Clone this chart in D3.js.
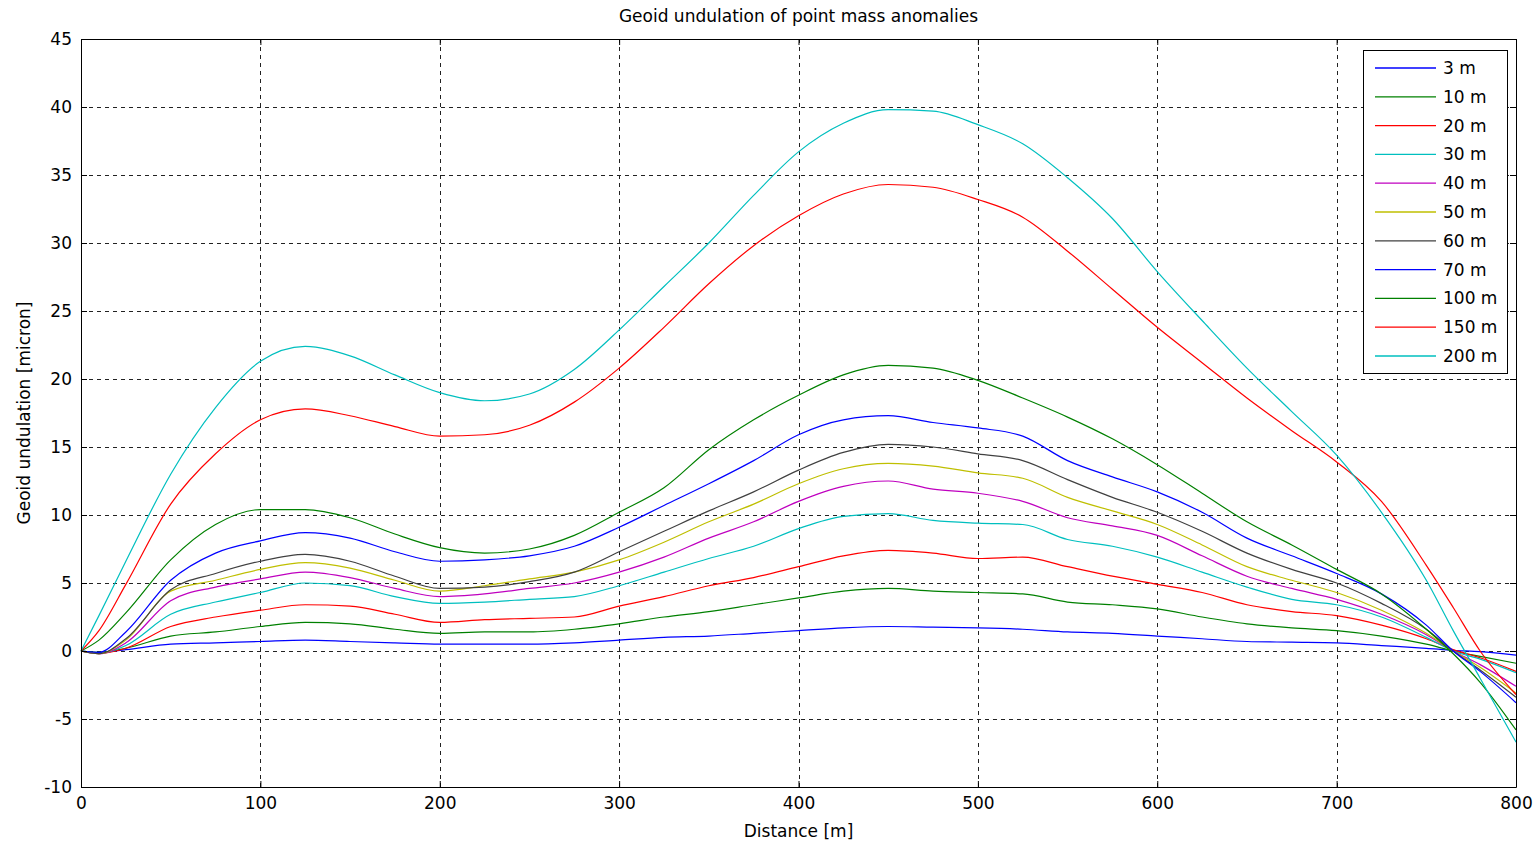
<!DOCTYPE html>
<html>
<head>
<meta charset="utf-8">
<script src="https://cdn.jsdelivr.net/npm/d3@7"></script>
<style>
  body { margin: 0; background: #fff; }
  text { font-family: "DejaVu Sans", sans-serif; fill: #000; }
</style>
</head>
<body>
<div id="chart"></div>
<script>
var width = 1540;
var height = 844;

// distance along profile [m]
var distance = [0, 10, 25, 50, 75, 100, 125, 150, 175, 200, 225, 250, 275, 300, 325, 350, 375, 400,
  425, 450, 475, 500, 525, 550, 575, 600, 625, 650, 675, 700, 725, 750, 765, 780, 800];

// geoid undulation [micron] per anomaly depth
var m3 = [0, -0.1, 0.1, 0.5, 0.6, 0.7, 0.8, 0.7, 0.6, 0.5, 0.5, 0.5, 0.6, 0.8, 1.0, 1.1, 1.3, 1.5,
  1.7, 1.8, 1.75, 1.7, 1.6, 1.4, 1.3, 1.1, 0.9, 0.7, 0.65, 0.6, 0.4, 0.2, 0.05, -0.05, -0.3];
var m10 = [0, -0.1, 0.2, 1.1, 1.4, 1.8, 2.1, 2.0, 1.6, 1.3, 1.4, 1.4, 1.6, 2.0, 2.5, 2.9, 3.4, 3.9,
  4.4, 4.6, 4.4, 4.3, 4.2, 3.6, 3.4, 3.1, 2.5, 2.0, 1.7, 1.5, 1.1, 0.5, 0.0, -0.4, -0.9];
var m20 = [0, -0.2, 0.2, 1.8, 2.5, 3.0, 3.4, 3.3, 2.7, 2.1, 2.3, 2.4, 2.5, 3.3, 4.0, 4.8, 5.4, 6.2,
  7.0, 7.4, 7.2, 6.8, 6.9, 6.2, 5.5, 4.9, 4.3, 3.4, 2.9, 2.6, 1.9, 0.9, 0.1, -0.5, -1.5];
var m30 = [0, -0.2, 0.4, 2.7, 3.6, 4.3, 5.0, 4.8, 4.0, 3.5, 3.6, 3.8, 4.0, 4.8, 5.8, 6.8, 7.7, 9.0,
  9.9, 10.1, 9.6, 9.4, 9.3, 8.2, 7.7, 6.9, 5.8, 4.7, 3.8, 3.4, 2.5, 1.0, 0.0, -0.6, -1.6];
var m40 = [0, -0.2, 0.6, 3.7, 4.7, 5.3, 5.8, 5.4, 4.6, 4.0, 4.2, 4.6, 5.0, 5.8, 6.9, 8.3, 9.5, 11.0,
  12.1, 12.5, 11.9, 11.6, 11.0, 9.8, 9.2, 8.5, 7.0, 5.5, 4.6, 3.8, 2.7, 1.2, 0.0, -1.0, -2.6];
var m50 = [0, -0.2, 0.8, 4.4, 5.2, 6.0, 6.5, 6.1, 5.2, 4.4, 4.8, 5.3, 5.8, 6.7, 8.0, 9.5, 10.8, 12.3,
  13.4, 13.8, 13.6, 13.1, 12.7, 11.3, 10.3, 9.3, 7.8, 6.2, 5.2, 4.3, 3.0, 1.3, 0.0, -1.2, -3.1];
var m60 = [0, -0.2, 0.9, 4.5, 5.7, 6.6, 7.1, 6.6, 5.5, 4.6, 4.7, 5.1, 5.8, 7.3, 8.8, 10.3, 11.7, 13.3,
  14.6, 15.2, 15.0, 14.5, 14.0, 12.6, 11.3, 10.2, 8.8, 7.2, 6.0, 5.0, 3.5, 1.6, 0.0, -1.4, -3.4];
var m70 = [0, -0.1, 1.4, 5.2, 7.2, 8.1, 8.7, 8.3, 7.3, 6.6, 6.7, 7.0, 7.7, 9.1, 10.7, 12.3, 14.0, 15.9,
  17.0, 17.3, 16.8, 16.4, 15.8, 14.0, 12.8, 11.7, 10.2, 8.3, 7.0, 5.7, 4.2, 1.9, 0.0, -1.5, -3.8];
var m100 = [0, 0.8, 2.8, 6.7, 9.3, 10.4, 10.4, 9.8, 8.6, 7.6, 7.2, 7.5, 8.5, 10.2, 12.0, 14.8, 17.0, 18.8,
  20.3, 21.0, 20.8, 19.9, 18.6, 17.2, 15.6, 13.7, 11.6, 9.5, 7.8, 6.0, 4.2, 1.6, -0.2, -2.3, -5.8];
var m150 = [0, 1.5, 4.9, 10.8, 14.5, 17.0, 17.8, 17.3, 16.5, 15.8, 15.9, 16.6, 18.3, 20.8, 23.8, 27.0, 29.8, 32.0,
  33.6, 34.3, 34.1, 33.2, 31.9, 29.4, 26.6, 23.8, 21.2, 18.6, 16.2, 13.9, 11.0, 6.3, 3.2, 0.0, -3.2];
var m200 = [0, 2.6, 6.6, 13.0, 17.9, 21.3, 22.4, 21.7, 20.3, 19.0, 18.4, 18.9, 20.7, 23.6, 26.8, 30.0, 33.5, 36.7,
  38.8, 39.8, 39.7, 38.7, 37.3, 34.8, 31.8, 27.9, 24.3, 20.8, 17.6, 14.4, 10.2, 5.2, 1.5, -2.0, -6.7];

var seriesNames = ['3 m', '10 m', '20 m', '30 m', '40 m', '50 m', '60 m', '70 m', '100 m', '150 m', '200 m'];
var seriesValues = [m3, m10, m20, m30, m40, m50, m60, m70, m100, m150, m200];
// matlab default line order
var lineColors = ['#0000ff', '#008000', '#ff0000', '#00bfbf', '#bf00bf', '#bfbf00', '#404040'];

var xTicks = d3.range(0, 801, 100);
var yTicks = d3.range(-10, 46, 5);

var plot = { left: 81, right: 1516, top: 39, bottom: 787 };

var svg = d3.select('#chart')
  .append('svg')
  .attr('width', width)
  .attr('height', height);

var x = d3.scaleLinear().domain([0, 800]).range([plot.left, plot.right]);
var y = d3.scaleLinear().domain([-10, 45]).range([plot.bottom, plot.top]);

// grid
var grid = svg.append('g')
  .attr('stroke', '#222')
  .attr('stroke-width', 1)
  .attr('stroke-dasharray', '4,4')
  .attr('shape-rendering', 'crispEdges');

grid.selectAll('.gx')
  .data(xTicks.slice(1, -1))
  .enter()
  .append('line')
  .attr('x1', d => Math.round(x(d)) + 0.5)
  .attr('x2', d => Math.round(x(d)) + 0.5)
  .attr('y1', plot.top)
  .attr('y2', plot.bottom);

grid.selectAll('.gy')
  .data(yTicks.slice(1, -1))
  .enter()
  .append('line')
  .attr('y1', d => Math.round(y(d)) + 0.5)
  .attr('y2', d => Math.round(y(d)) + 0.5)
  .attr('x1', plot.left)
  .attr('x2', plot.right);

// lines
var lineGen = d3.line()
  .x((d, i) => x(distance[i]))
  .y(d => y(d))
  .curve(d3.curveMonotoneX);

svg.append('g')
  .selectAll('path')
  .data(seriesValues)
  .enter()
  .append('path')
  .attr('d', lineGen)
  .attr('fill', 'none')
  .attr('stroke-width', 1.2)
  .attr('stroke', (d, i) => lineColors[i % lineColors.length]);

// axes (matlab style, ticks inside, on all four sides)
var plain = d => String(d);  // hyphen minus like matlab
var axB = d3.axisBottom(x).tickValues(xTicks).tickSizeInner(-6).tickSizeOuter(0).tickPadding(10).tickFormat(plain);
var axT = d3.axisTop(x).tickValues(xTicks).tickSizeInner(-6).tickSizeOuter(0).tickFormat('');
var axL = d3.axisLeft(y).tickValues(yTicks).tickSizeInner(-6).tickSizeOuter(0).tickPadding(9).tickFormat(plain);
var axR = d3.axisRight(y).tickValues(yTicks).tickSizeInner(-6).tickSizeOuter(0).tickFormat('');

function styleAxis(g) {
  g.select('.domain').attr('stroke', '#000');
  g.selectAll('.tick line').attr('stroke', '#000');
  g.selectAll('.tick text').attr('font-size', 17).attr('font-family', '"DejaVu Sans", sans-serif');
}

svg.append('g').attr('transform', 'translate(0,' + plot.bottom + ')').call(axB).call(styleAxis);
svg.append('g').attr('transform', 'translate(0,' + plot.top + ')').call(axT).call(styleAxis);
svg.append('g').attr('transform', 'translate(' + plot.left + ',0)').call(axL).call(styleAxis);
svg.append('g').attr('transform', 'translate(' + plot.right + ',0)').call(axR).call(styleAxis);

// titles
svg.append('text')
  .attr('x', (plot.left + plot.right) / 2)
  .attr('y', 22)
  .attr('text-anchor', 'middle')
  .attr('font-size', 17)
  .text('Geoid undulation of point mass anomalies');

svg.append('text')
  .attr('x', (plot.left + plot.right) / 2)
  .attr('y', 837)
  .attr('text-anchor', 'middle')
  .attr('font-size', 17)
  .text('Distance [m]');

svg.append('text')
  .attr('transform', 'translate(30,' + (plot.top + plot.bottom) / 2 + ') rotate(-90)')
  .attr('text-anchor', 'middle')
  .attr('font-size', 17)
  .text('Geoid undulation [micron]');

// legend
var legend = svg.append('g').attr('transform', 'translate(1363,50)');
legend.append('rect')
  .attr('x', 0.5).attr('y', 0.5)
  .attr('width', 144).attr('height', 323)
  .attr('fill', '#fff')
  .attr('stroke', '#000');

var items = legend.selectAll('.item')
  .data(seriesNames)
  .enter()
  .append('g')
  .attr('transform', (d, i) => 'translate(0,' + (18 + i * 28.8) + ')');

items.append('line')
  .attr('x1', 12).attr('x2', 73)
  .attr('stroke-width', 1.3)
  .attr('stroke', (d, i) => lineColors[i % lineColors.length]);

items.append('text')
  .attr('x', 80)
  .attr('dy', '0.35em')
  .attr('font-size', 17)
  .text(d => d);
</script>
</body>
</html>
